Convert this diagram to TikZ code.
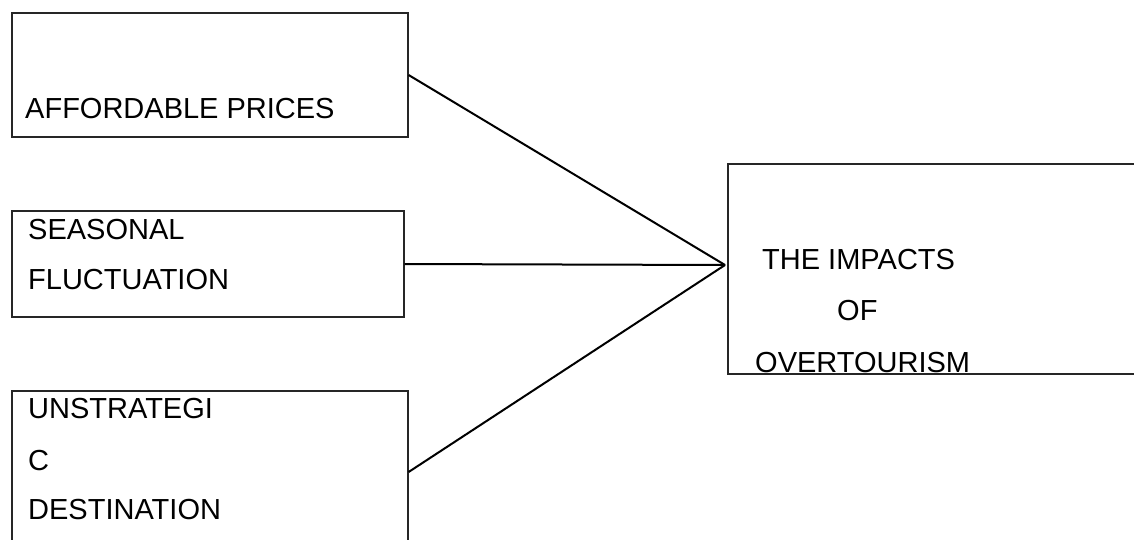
\documentclass[tikz,border=0pt]{standalone}
\usepackage{fontspec}
\setmainfont{Liberation Sans}
\begin{document}
\begin{tikzpicture}[x=1pt,y=-1pt,
  box/.style={draw=black!85,line width=1.2pt,rectangle,inner sep=0pt},
  label/.style={anchor=base west,inner sep=0pt,font=\fontsize{29}{34}\selectfont},
  link/.style={draw=black,line width=2pt}]
\useasboundingbox (0,0) rectangle (1134,539);
\clip (0,0) rectangle (1134,539);
% cause boxes on the left
\node[box,minimum width=396pt,minimum height=124pt] (price) at (210,75) {};
\node[box,minimum width=392pt,minimum height=106pt] (season) at (208,264) {};
\node[box,minimum width=396pt,minimum height=162pt] (dest) at (210,472) {};
% effect box on the right
\node[box,minimum width=417pt,minimum height=210pt] (impact) at (936.5,269) {};
\coordinate (hub) at (725,265);
% texts
\node[label] (t1) at (25,118) {AFFORDABLE PRICES};
\node[label] (t2) at (28,239) {SEASONAL};
\node[label] (t3) at (28,289) {FLUCTUATION};
\node[label] (t4) at (28,418) {UNSTRATEGI};
\node[label] (t5) at (28,470) {C};
\node[label] (t6) at (28,519) {DESTINATION};
\node[label] (t7) at (762,269) {THE IMPACTS};
\node[label] (t8) at (837,320) {OF};
\node[label] (t9) at (755,372) {OVERTOURISM};
% connectors
\draw[link] (price.east) -- (hub);
\draw[link] (season.east) -- (hub);
\draw[link] (dest.east) -- (hub);
\end{tikzpicture}
\end{document}
